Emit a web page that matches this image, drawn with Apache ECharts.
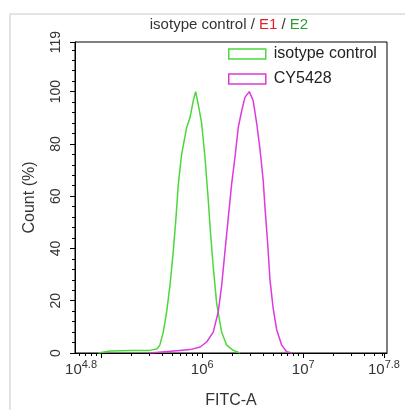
<!DOCTYPE html>
<html lang="en">
<head>
<meta charset="utf-8">
<title>isotype control / E1 / E2</title>
<script src="https://cdn.jsdelivr.net/npm/echarts@6.0.0/dist/echarts.min.js"></script>
<style>
    html, body { margin: 0; padding: 0; background: #fff; }
    #main { width: 405px; height: 410px; }
</style>
</head>
<body>
<div id="main"></div>
<script>
// x = log10(FITC-A), y = Count (%)
var isoLog   = [4.97, 5.09, 5.30, 5.48, 5.55, 5.58, 5.614, 5.648, 5.681, 5.713, 5.740, 5.763, 5.796, 5.846, 5.879, 5.911, 5.935, 5.961, 5.994, 6.027, 6.057, 6.082, 6.109, 6.143, 6.192, 6.242, 6.307, 6.374];
var isoCount = [0,    0.8,  1,    1,    1.5,  3,    8,     15.8,  26,    38.8,  51.7,  64.5,  76,    86.3,  90,    96.5,  100,   95,    88,    75,    60,    46,    33,    19,    8,     3,     1,     0];

var cyLog   = [5.48, 5.63, 5.78, 5.88, 5.98, 6.044, 6.109, 6.159, 6.193, 6.225, 6.258, 6.291, 6.324, 6.357, 6.391, 6.423, 6.466, 6.505, 6.539, 6.572, 6.604, 6.621, 6.648, 6.671, 6.703, 6.737, 6.787, 6.836, 6.889];
var cyCount = [0,    0.5,  1,    1.3,  2.3,  4.2,   8,     15.8,  26,    38.8,  51.7,  64.5,  74.8,  86.3,  92.7,  97.8,  100,   96.5,  88,    78,    66,    56,    42,    28,    17,    9,     3,     0.5,   0];

var seriesNames = ['isotype control', 'CY5428'];
var seriesColors = ['#4cd83c', '#dc3adc'];

var xLabelExp = [4.8, 6, 7, 7.8];
var xMajorTicks = [5, 6, 7, 7.8];
var yTicks = [0, 20, 40, 60, 80, 100, 119];

var xMin = 4.74, xMax = 7.83;
var yMin = 0, yMax = 119;

function pairs(xs, ys) {
    return xs.map(function (x, i) { return [x, ys[i]]; });
}

// minor ticks: log decades on x, every 4 on y
var xMinor = [];
for (var d = 4; d <= 7; d++) {
    for (var k = 2; k <= 9; k++) {
        var v = d + Math.log10(k);
        if (v > xMin && v < xMax) xMinor.push(v);
    }
}
var yMinor = [];
for (var t = 4; t < yMax; t += 4) {
    if (t % 20 !== 0) yMinor.push(t);
}

var font = "'Liberation Sans', Arial, sans-serif";
var black = { color: '#000', width: 1 };

var myChart = echarts.init(document.getElementById('main'), null, { renderer: 'canvas' });

var option = {
    animation: false,
    backgroundColor: '#fff',
    title: {
        text: '{a|isotype control / }{r|E1}{a| / }{g|E2}',
        left: 229,
        top: 17,
        textAlign: 'center',
        padding: 0,
        textStyle: {
            fontWeight: 'normal',
            rich: {
                a: { fontFamily: font, fontSize: 15, fontWeight: 'normal', color: '#333' },
                r: { fontFamily: font, fontSize: 15, fontWeight: 'normal', color: '#e0202a' },
                g: { fontFamily: font, fontSize: 15, fontWeight: 'normal', color: '#2f9a35' }
            }
        }
    },
    legend: {
        orient: 'vertical',
        left: 228,
        top: 46,
        padding: 0,
        itemWidth: 37,
        itemHeight: 10,
        itemGap: 9,
        icon: 'rect',
        textStyle: { fontFamily: font, fontSize: 16, color: '#222', padding: [0, 0, 0, 3] },
        data: seriesNames.map(function (n, i) {
            return {
                name: n,
                itemStyle: { color: '#fff', borderColor: seriesColors[i], borderWidth: 1.5 }
            };
        })
    },
    grid: {
        left: 75,
        right: 18,
        top: 42,
        bottom: 57,
        show: true,
        borderColor: '#000',
        borderWidth: 1,
        containLabel: false,
        outerBoundsMode: 'none'
    },
    xAxis: [{
        type: 'value',
        position: 'bottom',
        min: xMin,
        max: xMax,
        splitLine: { show: false },
        axisLine: { show: true, lineStyle: black },
        axisTick: { show: true, customValues: xMajorTicks, length: 5, lineStyle: black },
        axisLabel: {
            customValues: xLabelExp,
            margin: 6,
            formatter: function (v) { return '{b|10}{e|' + v + '}'; },
            rich: {
                b: { fontFamily: font, fontSize: 15, color: '#333', lineHeight: 18, verticalAlign: 'bottom' },
                e: { fontFamily: font, fontSize: 11, color: '#333', lineHeight: 18, verticalAlign: 'top' }
            }
        },
        name: 'FITC-A',
        nameLocation: 'middle',
        nameGap: 40,
        nameTextStyle: { fontFamily: font, fontSize: 16, color: '#333' }
    }, {
        type: 'value',
        position: 'bottom',
        min: xMin,
        max: xMax,
        splitLine: { show: false },
        axisLine: { show: false },
        axisTick: { show: true, customValues: xMinor, length: 3, lineStyle: black },
        axisLabel: { show: false }
    }],
    yAxis: [{
        type: 'value',
        position: 'left',
        min: yMin,
        max: yMax,
        splitLine: { show: false },
        axisLine: { show: true, lineStyle: black },
        axisTick: { show: true, customValues: yTicks, length: 5, lineStyle: black },
        axisLabel: {
            customValues: yTicks,
            rotate: 90,
            margin: 12,
            fontFamily: font,
            fontSize: 14,
            color: '#333'
        },
        name: 'Count (%)',
        nameLocation: 'middle',
        nameGap: 37,
        nameTextStyle: { fontFamily: font, fontSize: 16, color: '#333' }
    }, {
        type: 'value',
        position: 'left',
        min: yMin,
        max: yMax,
        splitLine: { show: false },
        axisLine: { show: false },
        axisTick: { show: true, customValues: yMinor, length: 3, lineStyle: black },
        axisLabel: { show: false }
    }],
    graphic: [{
        type: 'rect',
        silent: true,
        shape: { x: 10, y: 14, width: 420, height: 420 },
        style: { fill: 'none', stroke: '#dcdcdc', lineWidth: 1.5 }
    }],
    series: [{
        name: seriesNames[0],
        type: 'line',
        xAxisIndex: 0,
        yAxisIndex: 0,
        showSymbol: false,
        smooth: false,
        color: seriesColors[0],
        lineStyle: { color: seriesColors[0], width: 1.5 },
        data: pairs(isoLog, isoCount)
    }, {
        name: seriesNames[1],
        type: 'line',
        xAxisIndex: 0,
        yAxisIndex: 0,
        showSymbol: false,
        smooth: false,
        color: seriesColors[1],
        lineStyle: { color: seriesColors[1], width: 1.5 },
        data: pairs(cyLog, cyCount)
    }]
};

myChart.setOption(option);
</script>
</body>
</html>
